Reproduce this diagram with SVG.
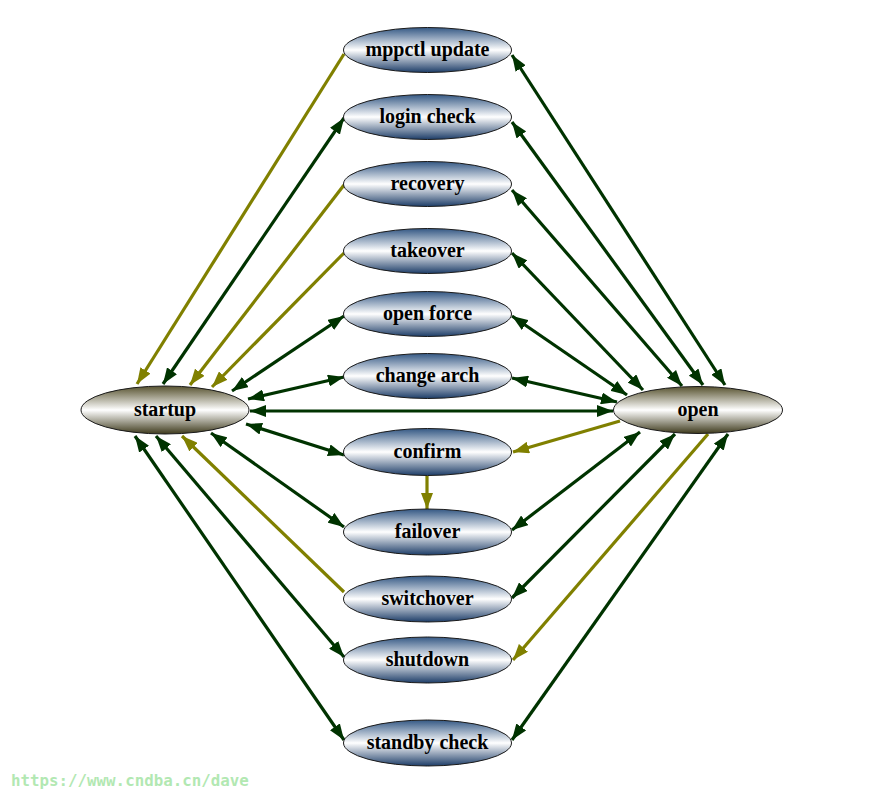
<svg xmlns="http://www.w3.org/2000/svg" width="870" height="796" viewBox="0 0 870 796">
<defs>
<linearGradient id="gBlue" x1="0" y1="0" x2="0" y2="1">
<stop offset="0" stop-color="#345884"/>
<stop offset="0.5" stop-color="#ffffff"/>
<stop offset="1" stop-color="#1d3d68"/>
</linearGradient>
<linearGradient id="gOlive" x1="0" y1="0" x2="0" y2="1">
<stop offset="0" stop-color="#57522f"/>
<stop offset="0.5" stop-color="#ffffff"/>
<stop offset="1" stop-color="#3e3a1c"/>
</linearGradient>
<marker id="aG" viewBox="0 0 16 12" refX="16" refY="6" markerWidth="16" markerHeight="12" markerUnits="userSpaceOnUse" orient="auto-start-reverse">
<path d="M0,0 L16,6 L0,12 z" fill="#003300"/>
</marker>
<marker id="aO" viewBox="0 0 16 12" refX="16" refY="6" markerWidth="16" markerHeight="12" markerUnits="userSpaceOnUse" orient="auto-start-reverse">
<path d="M0,0 L16,6 L0,12 z" fill="#808000"/>
</marker>
</defs>
<style>
.mid{fill:url(#gBlue);stroke:#1a1a1a;stroke-width:1}
.end{fill:url(#gOlive);stroke:#1a1a1a;stroke-width:1}
.lbl{font-family:"Liberation Serif","Times New Roman",serif;font-weight:bold;font-size:20px;text-anchor:middle;fill:#000}
.g{stroke:#003300;stroke-width:3.2;fill:none}
.o{stroke:#808000;stroke-width:3.2;fill:none}
.bi{marker-start:url(#aG);marker-end:url(#aG)}
.ue{marker-end:url(#aO)}
.wm{font-family:"DejaVu Sans Mono",monospace;font-weight:bold;font-size:15.8px;fill:#b2e8b2}
</style>
<rect width="870" height="796" fill="#ffffff"/>
<g id="edges">
<line class="o ue" x1="344" y1="54" x2="137" y2="384"/>
<line class="g bi" x1="344" y1="118" x2="163" y2="384"/>
<line class="o ue" x1="344" y1="185" x2="190" y2="385"/>
<line class="o ue" x1="344" y1="253" x2="212" y2="387"/>
<line class="g bi" x1="344" y1="316" x2="232" y2="391"/>
<line class="g bi" x1="344" y1="377" x2="248" y2="399"/>
<line class="g bi" x1="250" y1="411" x2="613" y2="411"/>
<line class="g bi" x1="246" y1="424" x2="344" y2="455"/>
<line class="g bi" x1="211" y1="433" x2="344" y2="527"/>
<line class="o ue" x1="344" y1="592" x2="182" y2="436"/>
<line class="g bi" x1="156" y1="436" x2="344" y2="657"/>
<line class="g bi" x1="135" y1="436" x2="344" y2="740"/>
<line class="g bi" x1="512" y1="55" x2="725" y2="385"/>
<line class="g bi" x1="512" y1="122" x2="703" y2="385"/>
<line class="g bi" x1="512" y1="190" x2="682" y2="386"/>
<line class="g bi" x1="512" y1="253" x2="643" y2="390"/>
<line class="g bi" x1="512" y1="316" x2="627" y2="395"/>
<line class="g bi" x1="512" y1="378" x2="617" y2="402"/>
<line class="o ue" x1="620" y1="421" x2="513" y2="452"/>
<line class="g bi" x1="640" y1="432" x2="512" y2="530"/>
<line class="g bi" x1="675" y1="434" x2="512" y2="598"/>
<line class="o ue" x1="708" y1="434" x2="513" y2="660"/>
<line class="g bi" x1="728" y1="434" x2="512" y2="740"/>
<line class="o ue" x1="427" y1="476" x2="427" y2="509"/>
</g>
<g id="startup"><ellipse class="end" cx="165" cy="410" rx="84" ry="24"/><text class="lbl" x="165" y="416">startup</text></g>
<g id="open"><ellipse class="end" cx="698" cy="410" rx="84.5" ry="23.5"/><text class="lbl" x="698" y="416">open</text></g>
<g id="mppctl_update"><ellipse class="mid" cx="427.5" cy="50" rx="84" ry="22.5"/><text class="lbl" x="427.5" y="56">mppctl update</text></g>
<g id="login_check"><ellipse class="mid" cx="427.5" cy="117" rx="84" ry="22.5"/><text class="lbl" x="427.5" y="123">login check</text></g>
<g id="recovery"><ellipse class="mid" cx="427.5" cy="184" rx="84" ry="22.5"/><text class="lbl" x="427.5" y="190">recovery</text></g>
<g id="takeover"><ellipse class="mid" cx="427.5" cy="251" rx="84" ry="22.5"/><text class="lbl" x="427.5" y="257">takeover</text></g>
<g id="open_force"><ellipse class="mid" cx="427.5" cy="314" rx="84" ry="22.5"/><text class="lbl" x="427.5" y="320">open force</text></g>
<g id="change_arch"><ellipse class="mid" cx="427.5" cy="376" rx="84" ry="22.5"/><text class="lbl" x="427.5" y="382">change arch</text></g>
<g id="confirm"><ellipse class="mid" cx="427.5" cy="452" rx="84" ry="23.5"/><text class="lbl" x="427.5" y="458">confirm</text></g>
<g id="failover"><ellipse class="mid" cx="427.5" cy="532" rx="84" ry="23"/><text class="lbl" x="427.5" y="538">failover</text></g>
<g id="switchover"><ellipse class="mid" cx="427.5" cy="599" rx="84" ry="23"/><text class="lbl" x="427.5" y="605">switchover</text></g>
<g id="shutdown"><ellipse class="mid" cx="427.5" cy="660" rx="84" ry="23"/><text class="lbl" x="427.5" y="666">shutdown</text></g>
<g id="standby_check"><ellipse class="mid" cx="427.5" cy="743" rx="84" ry="23"/><text class="lbl" x="427.5" y="749">standby check</text></g>
<text class="wm" x="11" y="786">https://www.cndba.cn/dave</text>
</svg>
